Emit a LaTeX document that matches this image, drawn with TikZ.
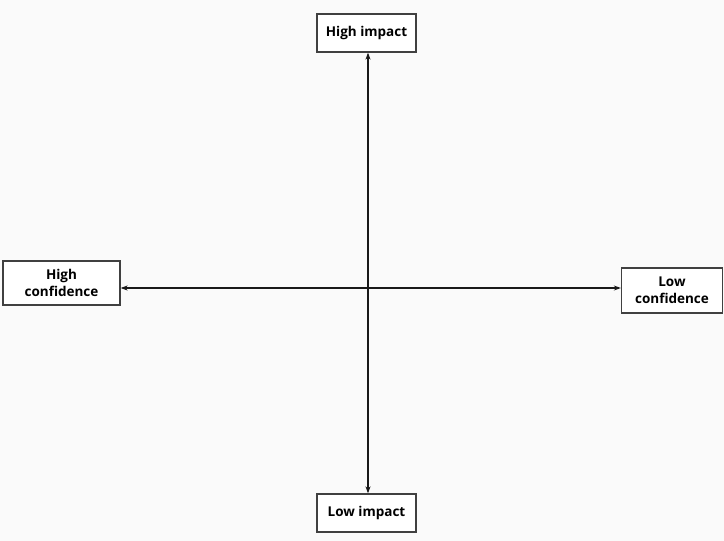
\documentclass[tikz,border=0pt]{standalone}
\usepackage{fontspec}
\setmainfont{Open Sans}
\usetikzlibrary{arrows.meta}
\begin{document}
\begin{tikzpicture}[x=1pt,y=-1pt,
  labelbox/.style={draw=black!75, line width=1.3pt, fill=white, align=center,
    font=\fontsize{13.5}{17}\selectfont\bfseries, inner sep=0pt},
  axis/.style={line width=1.1pt, black!90, {Stealth[length=7pt,width=5pt]}-{Stealth[length=7pt,width=5pt]}}]
  % canvas
  \fill[white!98!black] (0,0) rectangle (724,541);
  \useasboundingbox (0,0) rectangle (724,541);
  % labels
  \node[labelbox, minimum width=99pt, minimum height=38pt] (hi) at (366.5,33) {High impact};
  \node[labelbox, minimum width=99pt, minimum height=38pt] (li) at (366.5,513) {Low impact};
  \node[labelbox, minimum width=117pt, minimum height=44pt] (hc) at (61.5,283) {High\\confidence};
  \node[labelbox, minimum width=101pt, minimum height=45pt] (lc) at (672,290.5) {Low\\confidence};
  % axes crossing point
  \coordinate (o) at (368,288);
  \draw[axis] (hi.south -| o) -- (li.north -| o);
  \draw[axis] (hc.east |- o) -- (lc.west |- o);
\end{tikzpicture}
\end{document}
